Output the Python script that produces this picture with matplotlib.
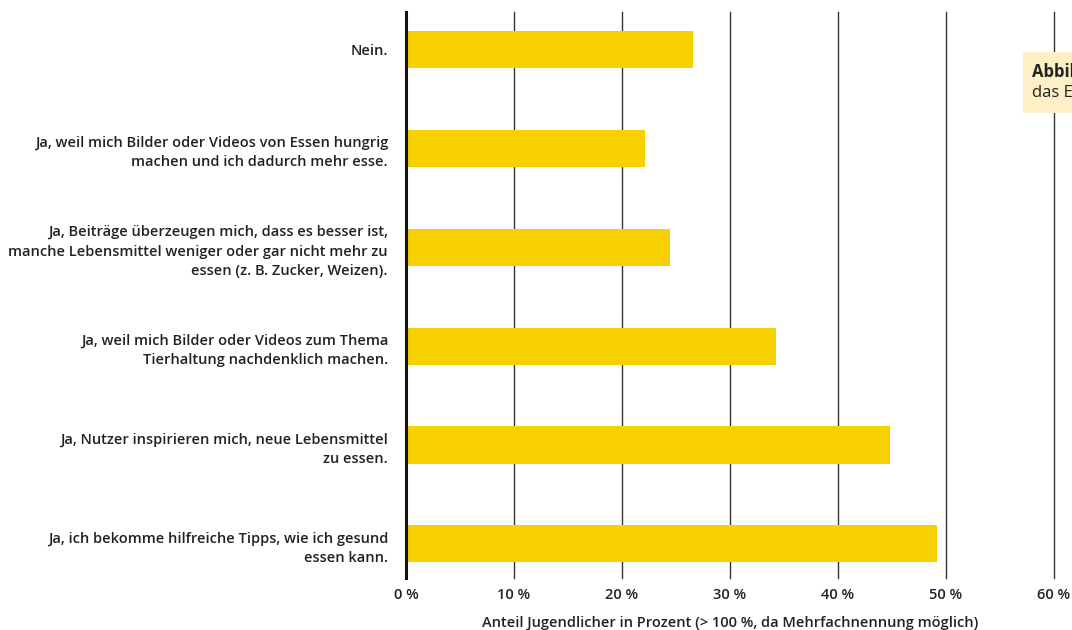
import matplotlib
matplotlib.use("Agg")
import matplotlib.pyplot as plt
from matplotlib.patches import Rectangle

categories = [
    "Nein.",
    "Ja, weil mich Bilder oder Videos von Essen hungrig\nmachen und ich dadurch mehr esse.",
    "Ja, Beiträge überzeugen mich, dass es besser ist,\nmanche Lebensmittel weniger oder gar nicht mehr zu\nessen (z. B. Zucker, Weizen).",
    "Ja, weil mich Bilder oder Videos zum Thema\nTierhaltung nachdenklich machen.",
    "Ja, Nutzer inspirieren mich, neue Lebensmittel\nzu essen.",
    "Ja, ich bekomme hilfreiche Tipps, wie ich gesund\nessen kann.",
]
values = [26.6, 22.1, 24.4, 34.3, 44.8, 49.2]
xticks = [0, 10, 20, 30, 40, 50, 60]
xticklabels = ["0 %", "10 %", "20 %", "30 %", "40 %", "50 %", "60 %"]
xlabel = "Anteil Jugendlicher in Prozent (> 100 %, da Mehrfachnennung möglich)"

plt.rcParams['font.family'] = ['Open Sans', 'DejaVu Sans']

fig = plt.figure(figsize=(10.72, 6.30), dpi=100)
ax = fig.add_axes([406/1072, 1-578/630, (1054-406)/1072, (578-12)/630])

ypos = list(range(len(categories)))
ax.barh(ypos, values, height=0.375, color="#F7D000", zorder=2)
ax.set_xlim(0, 60)
ax.set_ylim(5.345, -0.378)

for t in xticks[1:]:
    ax.axvline(t, color="#333333", lw=1.0, zorder=1, clip_on=False)
ax.axvline(0, color="#111111", lw=2.2, zorder=3, clip_on=False)

for s in ax.spines.values():
    s.set_visible(False)

ax.set_yticks(ypos)
ax.set_yticklabels(categories, fontsize=10.5, fontweight='semibold', color="#222222", linespacing=1.5)
ax.tick_params(axis='y', length=0, pad=13)
ax.set_xticks(xticks)
ax.set_xticklabels(xticklabels, fontsize=10.5, fontweight='semibold', color="#222222")
ax.tick_params(axis='x', length=0, pad=7)
ax.set_xlabel(xlabel, fontsize=10.5, fontweight='semibold', color="#222222", labelpad=10)

# partially visible caption box at the top right
fig.patches.append(Rectangle((1023/1072, 1-113/630), 0.1, 61/630, transform=fig.transFigure,
                             facecolor="#FDF0C6", edgecolor="none", zorder=5))
fig.text(1032/1072, 1-72/630, "Abbildung", fontsize=12, fontweight='bold', color="#222222",
         va='center', ha='left', zorder=6)
fig.text(1032/1072, 1-93/630, "das Essverhalten", fontsize=12, color="#222222",
         va='center', ha='left', zorder=6)

fig.savefig("out.png", dpi=100)
